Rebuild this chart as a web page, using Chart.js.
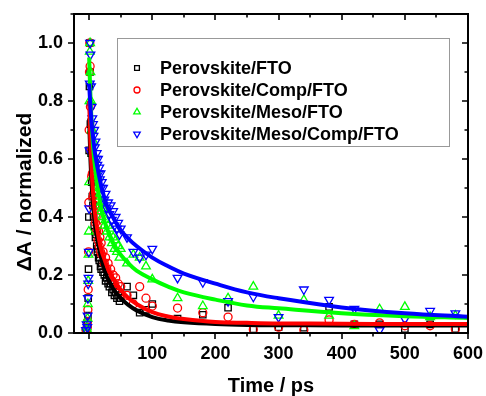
<!DOCTYPE html>
<html>
<head>
<meta charset="utf-8">
<script src="https://cdn.jsdelivr.net/npm/chart.js@4.4.0/dist/chart.umd.min.js"></script>
<style>
  html, body { margin: 0; padding: 0; background: #fff; }
</style>
</head>
<body>
<canvas id="tas" width="486" height="396"></canvas>
<script>
// measured points (time in ps, normalized dA)
const times = [-5, -4, -3, -2.5, -2, -1.5, -1, -0.5, 0, 0.5, 1, 1.5, 2,
  3, 4, 5, 6, 7, 8, 9, 10, 11, 12, 13, 14, 15, 16, 17, 18, 19, 20,
  22, 24, 26, 28, 30, 32, 34, 36, 38, 40, 42, 44, 46, 48, 50,
  60, 70, 80, 90, 100,
  140, 180, 220, 260, 300, 340, 380, 420, 460, 500, 540, 580];

const fto = [0.0, 0.01, 0.01, 0.03, 0.06, 0.12, 0.22, 0.4, 0.63, 0.85, 1.0, 0.9, 0.72,
  0.62, 0.52, 0.47, 0.44, 0.4, 0.37, 0.35, 0.33, 0.34, 0.3, 0.28, 0.29, 0.26, 0.25, 0.26, 0.23, 0.22, 0.24,
  0.21, 0.2, 0.18, 0.19, 0.17, 0.16, 0.17, 0.14, 0.15, 0.13, 0.14, 0.12, 0.13, 0.11, 0.12,
  0.16, 0.13, 0.07, 0.08, 0.1,
  0.05, 0.063, 0.087, 0.013, 0.02, 0.018, 0.09, 0.03, 0.03, 0.014, 0.03, 0.014];

const comp = [0.01, 0.01, 0.02, 0.04, 0.08, 0.15, 0.28, 0.45, 0.7, 0.9, 1.0, 0.92, 0.78,
  0.63, 0.54, 0.55, 0.47, 0.48, 0.42, 0.44, 0.38, 0.4, 0.35, 0.37, 0.32, 0.35, 0.3, 0.33, 0.28, 0.31, 0.27,
  0.28, 0.24, 0.26, 0.22, 0.24, 0.2, 0.22, 0.18, 0.2, 0.17, 0.19, 0.15, 0.17, 0.14, 0.16,
  0.13, 0.1, 0.16, 0.12, 0.093,
  0.086, 0.07, 0.055, 0.012, 0.02, 0.01, 0.045, 0.03, 0.035, 0.025, 0.025, 0.014];

const meso = [0.0, 0.02, 0.01, 0.05, 0.1, 0.18, 0.27, 0.35, 0.52, 0.8, 0.97, 1.0, 0.9,
  0.8, 0.7, 0.7, 0.62, 0.66, 0.57, 0.6, 0.53, 0.56, 0.5, 0.54, 0.47, 0.5, 0.44, 0.48, 0.42, 0.45, 0.4,
  0.43, 0.37, 0.39, 0.35, 0.37, 0.33, 0.36, 0.31, 0.33, 0.29, 0.32, 0.28, 0.3, 0.26, 0.29,
  0.24, 0.27, 0.26, 0.23, 0.185,
  0.12, 0.093, 0.12, 0.16, 0.06, 0.114, 0.06, 0.024, 0.082, 0.09, 0.055, 0.06];

const mesoComp = [0.01, 0.03, 0.02, 0.06, 0.12, 0.17, 0.19, 0.28, 0.43, 0.63, 0.86, 1.0, 0.96,
  0.85, 0.78, 0.74, 0.72, 0.68, 0.7, 0.64, 0.66, 0.6, 0.62, 0.58, 0.6, 0.55, 0.57, 0.53, 0.55, 0.5, 0.52,
  0.5, 0.46, 0.48, 0.43, 0.45, 0.41, 0.44, 0.39, 0.42, 0.37, 0.4, 0.36, 0.38, 0.34, 0.36,
  0.33, 0.28, 0.26, 0.27, 0.29,
  0.19, 0.175, 0.11, 0.125, 0.055, 0.15, 0.114, 0.083, 0.01, 0.048, 0.076, 0.068];

// fitted decay curves
const fitTimes = [0, 2, 4, 6, 8, 10, 15, 20, 25, 30, 40, 50, 60, 75, 100, 125, 150, 200, 250, 300, 400, 500, 600];
const fitFto = [0.74, 0.6, 0.51, 0.45, 0.4, 0.36, 0.3, 0.25, 0.21, 0.185, 0.145, 0.12, 0.1, 0.078, 0.055, 0.043, 0.037, 0.031, 0.028, 0.027, 0.026, 0.026, 0.026];
const fitComp = [0.8, 0.66, 0.56, 0.49, 0.44, 0.4, 0.33, 0.28, 0.25, 0.22, 0.18, 0.15, 0.125, 0.1, 0.072, 0.057, 0.048, 0.038, 0.035, 0.033, 0.032, 0.031, 0.031];
const fitMeso = [0.95, 0.82, 0.72, 0.65, 0.6, 0.56, 0.48, 0.42, 0.38, 0.35, 0.3, 0.27, 0.245, 0.215, 0.185, 0.16, 0.14, 0.115, 0.095, 0.085, 0.068, 0.058, 0.052];
const fitMesoComp = [0.86, 0.78, 0.72, 0.68, 0.64, 0.61, 0.55, 0.5, 0.46, 0.43, 0.39, 0.355, 0.33, 0.3, 0.26, 0.23, 0.205, 0.17, 0.14, 0.12, 0.088, 0.068, 0.056];

const seriesNames = ["Perovskite/FTO", "Perovskite/Comp/FTO", "Perovskite/Meso/FTO", "Perovskite/Meso/Comp/FTO"];
const xTicks = [0, 100, 200, 300, 400, 500, 600];
const yTicks = [0, 0.2, 0.4, 0.6, 0.8, 1.0];

const font = "'Liberation Sans', Arial, sans-serif";

function toPoints(xs, ys) {
  return xs.map((x, i) => ({ x: x, y: ys[i] }));
}

function fitSet(ys, color) {
  return {
    type: "line",
    data: toPoints(fitTimes, ys),
    borderColor: color,
    borderWidth: 4,
    pointRadius: 0,
    tension: 0.4,
    fill: false,
    isFit: true,
  };
}

function pointSet(name, ys, color, style, radius, rotation) {
  return {
    type: "scatter",
    label: name,
    data: toPoints(times, ys),
    borderColor: color,
    backgroundColor: "rgba(0,0,0,0)",
    borderWidth: 1.3,
    pointStyle: style,
    pointRadius: radius,
    pointRotation: rotation,
    pointHoverRadius: radius,
  };
}

// frame with ticks: outward on bottom/left, inward on top/right
const frame = {
  id: "frame",
  afterDraw(chart) {
    const { ctx, chartArea, scales } = chart;
    const { left, right, top, bottom } = chartArea;
    ctx.save();
    ctx.strokeStyle = "#000";
    ctx.lineWidth = 2;
    ctx.strokeRect(left, top, right - left, bottom - top);
    ctx.lineWidth = 1.6;
    for (let v = 0; v <= 600; v += 50) {
      const px = Math.round(scales.x.getPixelForValue(v));
      const len = xTicks.includes(v) ? 6 : 3.5;
      ctx.beginPath();
      ctx.moveTo(px, bottom);
      ctx.lineTo(px, bottom + len);
      ctx.moveTo(px, top);
      ctx.lineTo(px, top + len);
      ctx.stroke();
    }
    for (let k = 0; k <= 11; k++) {
      const v = k / 10;
      const py = Math.round(scales.y.getPixelForValue(v));
      const len = k % 2 === 0 ? 6 : 3.5;
      ctx.beginPath();
      ctx.moveTo(left, py);
      ctx.lineTo(left - len, py);
      ctx.moveTo(right, py);
      ctx.lineTo(right - len, py);
      ctx.stroke();
    }
    // axis titles
    ctx.fillStyle = "#000";
    ctx.font = "bold 20px " + font;
    ctx.textAlign = "center";
    ctx.textBaseline = "middle";
    ctx.fillText("Time / ps", 271, 386);
    ctx.font = "bold 21px " + font;
    ctx.translate(25, 192);
    ctx.rotate(-Math.PI / 2);
    ctx.fillText("\u0394A / normalized", 0, 0);
    ctx.restore();
  },
};

// legend box inside the plot
const boxLegend = {
  id: "boxLegend",
  afterDraw(chart) {
    const ctx = chart.ctx;
    ctx.save();
    ctx.strokeStyle = "#999";
    ctx.lineWidth = 1;
    ctx.fillStyle = "#fff";
    ctx.fillRect(117.5, 38.5, 332, 108);
    ctx.strokeRect(117.5, 38.5, 332, 108);
    const sets = chart.data.datasets.filter((d) => !d.isFit);
    sets.sort((a, b) => seriesNames.indexOf(a.label) - seriesNames.indexOf(b.label));
    sets.forEach((d, i) => {
      const y = 68 + i * 22;
      ctx.strokeStyle = d.borderColor;
      ctx.fillStyle = "rgba(0,0,0,0)";
      ctx.lineWidth = 1.3;
      Chart.helpers.drawPoint(ctx, {
        pointStyle: d.pointStyle,
        radius: d.pointRadius * 0.75,
        rotation: d.pointRotation,
        borderWidth: 1.3,
      }, 137, y);
      ctx.fillStyle = "#000";
      ctx.font = "bold 18px " + font;
      ctx.textAlign = "left";
      ctx.textBaseline = "middle";
      ctx.fillText(d.label, 160, y + 1);
    });
    ctx.restore();
  },
};

new Chart(document.getElementById("tas"), {
  data: {
    datasets: [
      fitSet(fitMesoComp, "#0000ff"),
      fitSet(fitMeso, "#00ff00"),
      fitSet(fitComp, "#ff0000"),
      fitSet(fitFto, "#000000"),
      pointSet(seriesNames[3], mesoComp, "#0000ff", "triangle", 5, 180),
      pointSet(seriesNames[2], meso, "#00ff00", "triangle", 5, 0),
      pointSet(seriesNames[1], comp, "#ff0000", "circle", 4, 0),
      pointSet(seriesNames[0], fto, "#000000", "rect", 4.5, 0),
    ],
  },
  options: {
    responsive: false,
    animation: false,
    layout: { padding: { top: 14, right: 18, left: 0, bottom: 0 } },
    plugins: { legend: { display: false }, tooltip: { enabled: false } },
    scales: {
      x: {
        type: "linear",
        min: -24,
        max: 600,
        grid: { display: false, drawTicks: false },
        border: { display: false },
        afterFit(scale) {
          scale.height = 63;
          scale.paddingLeft = 0;
          scale.paddingRight = 0;
        },
        ticks: {
          stepSize: 50,
          autoSkip: false,
          maxRotation: 0,
          padding: 10,
          color: "#000",
          font: { family: font, size: 18, weight: "bold" },
          callback: (v) => (xTicks.includes(v) ? String(v) : ""),
        },
      },
      y: {
        type: "linear",
        min: 0,
        max: 1.1,
        grid: { display: false, drawTicks: false },
        border: { display: false },
        afterFit(scale) {
          scale.width = 74;
          scale.paddingTop = 0;
          scale.paddingBottom = 0;
        },
        ticks: {
          stepSize: 0.1,
          autoSkip: false,
          padding: 11,
          color: "#000",
          font: { family: font, size: 18, weight: "bold" },
          callback: (v) => {
            const t = yTicks.find((y) => Math.abs(y - v) < 1e-6);
            return t === undefined ? "" : t.toFixed(1);
          },
        },
      },
    },
  },
  plugins: [frame, boxLegend],
});
</script>
</body>
</html>
